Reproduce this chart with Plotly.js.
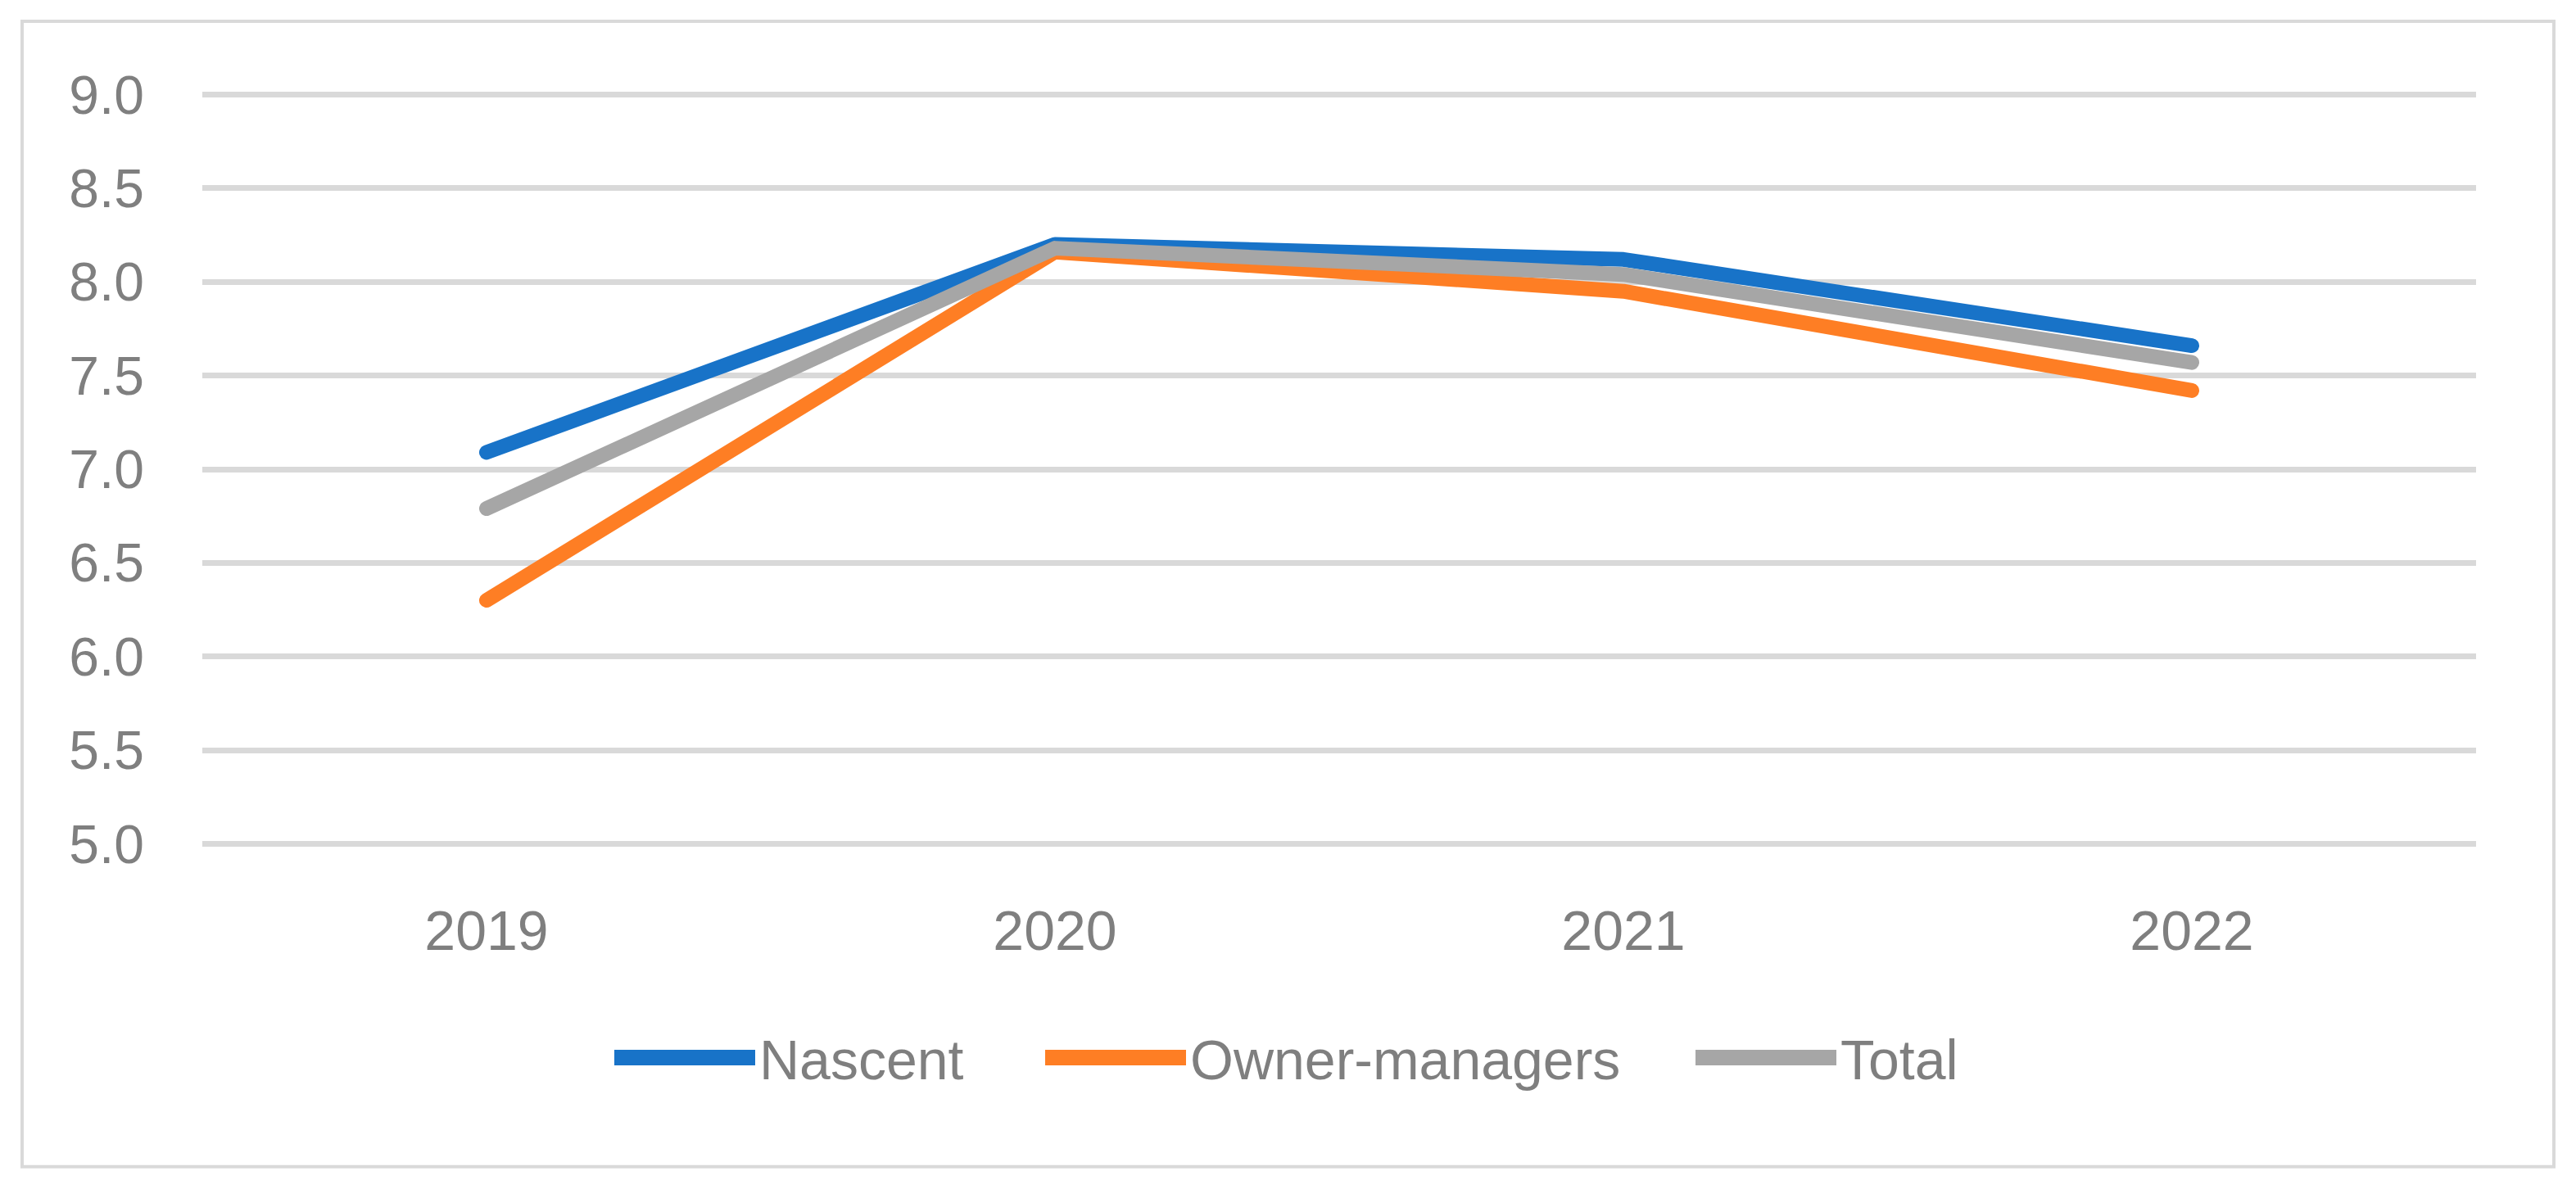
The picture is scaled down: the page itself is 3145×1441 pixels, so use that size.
<!DOCTYPE html>
<html>
<head>
<meta charset="utf-8">
<script src="https://cdn.plot.ly/plotly-3.0.1.min.js"></script>
<style>
html, body { margin: 0; padding: 0; background: #ffffff; }
#chart { width: 3145px; height: 1441px; }
.scatterlayer .js-line { stroke-linecap: round !important; stroke-linejoin: round !important; }
.legendlines path { stroke-width: 19px !important; }
</style>
</head>
<body>
<div id="chart"></div>
<script>
// Data
var years = ['2019', '2020', '2021', '2022'];
var nascent = [7.09, 8.20, 8.12, 7.66];
var ownerManagers = [6.30, 8.16, 7.95, 7.42];
var total = [6.79, 8.18, 8.04, 7.57];
var seriesNames = ['Nascent', 'Owner-managers', 'Total'];
var yTickVals = [5.0, 5.5, 6.0, 6.5, 7.0, 7.5, 8.0, 8.5, 9.0];
var yTickText = ['5.0', '5.5', '6.0', '6.5', '7.0', '7.5', '8.0', '8.5', '9.0'];

var colors = ['#1873c8', '#fe7e24', '#a6a6a6'];
var FONT = 'Liberation Sans, Arial, sans-serif';
var TXT = '#7f7f7f';

function mk(y, i, leg) {
  return {
    x: years, y: y, name: seriesNames[i], type: 'scatter', mode: 'lines',
    line: { color: colors[i], width: 18 },
    legend: leg, hoverinfo: 'skip'
  };
}

var data = [
  mk(nascent, 0, 'legend'),
  mk(ownerManagers, 1, 'legend2'),
  mk(total, 2, 'legend3')
];

// y=9.0 at 115.5px, y=5.0 at 1030.5px; range padded slightly so edge gridlines draw
var Y0 = 4.98, Y1 = 9.02;
var PPU = (1030.5 - 115.5) / 4;
var L = 247, R = 3023;
var T = 115.5 - (Y1 - 9) * PPU, B = 1030.5 + (5 - Y0) * PPU;
function px(x) { return (x - L) / (R - L); }
function py(y) { return (B - y) / (B - T); }

function legendAt(xpix) {
  return {
    orientation: 'h', x: px(xpix), xanchor: 'left', y: py(1292), yanchor: 'middle',
    font: { family: FONT, size: 68, color: TXT }, itemwidth: 172,
    bgcolor: 'rgba(0,0,0,0)', borderwidth: 0
  };
}

var layout = {
  width: 3145, height: 1441,
  margin: { l: L, r: 3145 - R, t: T, b: 1441 - B, pad: 0 },
  paper_bgcolor: '#ffffff', plot_bgcolor: '#ffffff',
  font: { family: FONT, color: TXT, size: 66 },
  showlegend: true,
  legend: legendAt(745),
  legend2: legendAt(1271),
  legend3: legendAt(2065),
  xaxis: {
    type: 'category', range: [-0.5, 3.5], showgrid: false, zeroline: false, showline: false,
    ticks: '', tickfont: { family: FONT, size: 68, color: TXT }, ticklabelstandoff: 56,
    fixedrange: true
  },
  yaxis: {
    range: [Y0, Y1], tickvals: yTickVals, ticktext: yTickText,
    showgrid: true, gridcolor: '#d9d9d9', gridwidth: 7, zeroline: false, showline: false,
    ticks: '', tickfont: { family: FONT, size: 66, color: TXT }, ticklabelstandoff: 70,
    fixedrange: true
  },
  shapes: [{
    type: 'rect', xref: 'paper', yref: 'paper', layer: 'below',
    x0: px(27), x1: px(3118), y0: py(1425), y1: py(26),
    line: { color: '#d9d9d9', width: 4 }, fillcolor: 'rgba(0,0,0,0)'
  }],
  hovermode: false
};

Plotly.newPlot('chart', data, layout, { displayModeBar: false, staticPlot: true });
</script>
</body>
</html>
